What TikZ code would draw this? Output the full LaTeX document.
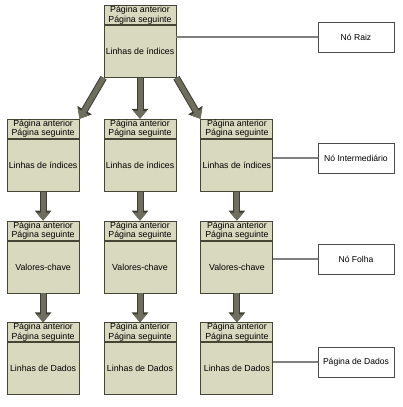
\documentclass[tikz,border=0pt]{standalone}
\usepackage{fontspec}
\setmainfont{Liberation Sans}
\usetikzlibrary{arrows.meta,positioning}

\definecolor{bege}{RGB}{217,217,192}
\definecolor{borda}{RGB}{70,70,55}
\definecolor{setacinza}{RGB}{110,110,95}
\definecolor{setaborda}{RGB}{60,60,50}

\tikzset{
  cab/.style={draw=borda, fill=bege, line width=0.9pt, minimum width=72pt, minimum height=19pt,
    inner sep=0pt, align=center, font=\fontsize{8.8}{9.6}\selectfont},
  corpo/.style={draw=borda, fill=bege, line width=0.9pt, minimum width=72pt, minimum height=52pt,
    inner sep=0pt, font=\fontsize{8.8}{10}\selectfont},
  rotulo/.style={draw=black!70, fill=white, line width=0.8pt, minimum width=76pt, minimum height=30pt,
    inner sep=0pt, font=\fontsize{8.6}{10}\selectfont},
  liga/.style={draw=black!50, line width=1.3pt},
  seta/.style={draw=setacinza, line width=5pt, -{Triangle[width=13pt,length=8pt]},
    preaction={draw=setaborda, line width=7pt, -{Triangle[width=16pt,length=10pt]}}}
}

% uma pagina: cabecalho + corpo
\newcommand{\pagina}[3]{%
  \node[cab, #2] (#1h) {Página anterior\\Página seguinte};
  \node[corpo, below=0pt of #1h] (#1) {#3};
}

\begin{document}
\begin{tikzpicture}[x=1pt, y=-1pt]
\useasboundingbox (0,0) rectangle (402,407);

% raiz e niveis
\pagina{r}{anchor=north, at={(140,5)}}{Linhas de índices}
\pagina{m2}{below=41pt of r}{Linhas de índices}
\pagina{m1}{left=24pt of m2h}{Linhas de índices}
\pagina{m3}{right=24pt of m2h}{Linhas de índices}
\foreach \i in {1,2,3} {
  \pagina{f\i}{below=29pt of m\i}{Valores-chave}
  \pagina{d\i}{below=29pt of f\i}{Linhas de Dados}
}

% setas
\draw[seta] (r.south west) -- (m1h.north east);
\draw[seta] (r.south) -- (m2h.north);
\draw[seta] (r.south east) -- (m3h.north west);
\foreach \i in {1,2,3} {
  \draw[seta] (m\i.south) -- (f\i h.north);
  \draw[seta] (f\i.south) -- (d\i h.north);
}

% legendas
\node[rotulo] (lr) at (356,37) {Nó Raiz};
\node[rotulo] (lm) at (356,158) {Nó Intermediário};
\node[rotulo] (lf) at (356,259) {Nó Folha};
\node[rotulo] (ld) at (356,362) {Página de Dados};
\draw[liga] (lr.west) -- (lr.west -| r.east);
\draw[liga] (lm.west) -- (lm.west -| m3.east);
\draw[liga] (lf.west) -- (lf.west -| f3.east);
\draw[liga] (ld.west) -- (ld.west -| d3.east);
\end{tikzpicture}
\end{document}
